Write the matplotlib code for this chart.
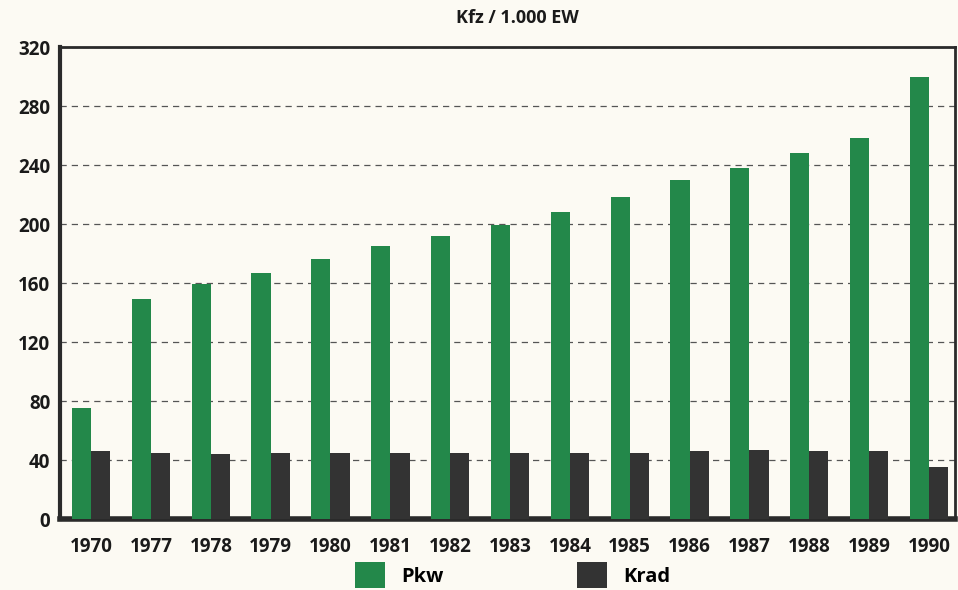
import numpy as np
import matplotlib.pyplot as plt
from matplotlib.patches import Patch

plt.rcParams['font.family'] = ['Open Sans', 'DejaVu Sans']

# Vehicles per 1,000 inhabitants
years = ["1970", "1977", "1978", "1979", "1980", "1981", "1982", "1983",
         "1984", "1985", "1986", "1987", "1988", "1989", "1990"]
pkw = [75, 149, 159, 167, 176, 185, 192, 199, 208, 218, 230, 238, 248, 258, 300]
krad = [46, 45, 44, 45, 45, 45, 45, 45, 45, 45, 46, 47, 46, 46, 35]
yticks = [0, 40, 80, 120, 160, 200, 240, 280, 320]

green = "#23884a"
dark = "#333333"
paper = "#fcfaf3"

fig = plt.figure(figsize=(9.58, 5.90), dpi=100, facecolor=paper)
ax = fig.add_axes([0.0626, 0.1203, 0.934, 0.80])
ax.set_facecolor(paper)

x = np.arange(len(years))
w = 0.32
ax.bar(x - w / 2, pkw, width=w, color=green, zorder=3)
ax.bar(x + w / 2, krad, width=w, color=dark, zorder=3)

ax.set_xlim(-0.52, 14.43)
ax.set_ylim(0, 320)
ax.set_yticks(yticks)
ax.set_xticks(x)
ax.set_xticklabels(years)
ax.tick_params(axis='both', length=0, labelsize=13.5, colors="#1a1a1a")
ax.tick_params(axis='x', pad=13)
ax.tick_params(axis='y', pad=7)
for lbl in ax.get_xticklabels() + ax.get_yticklabels():
    lbl.set_fontweight('bold')

ax.yaxis.grid(True, linestyle=(0, (5, 4)), color="#555555", linewidth=0.9, zorder=0)
ax.set_axisbelow(True)

for side, lw in [('left', 3), ('bottom', 4), ('top', 2), ('right', 2)]:
    ax.spines[side].set_linewidth(lw)
    ax.spines[side].set_color("#2a2a2a")

fig.text(0.540, 0.970, "Kfz / 1.000 EW", ha='center', va='center',
         fontsize=13, fontweight='bold', color="#1a1a1a")

handles = [Patch(facecolor=green), Patch(facecolor=dark)]
fig.legend(handles, ["Pkw", "Krad"], loc='center', bbox_to_anchor=(0.535, 0.025),
           ncol=2, frameon=False, handlelength=1.5, handleheight=1.6,
           columnspacing=6.6, handletextpad=0.8,
           prop={'weight': 'bold', 'size': 14.5})

fig.savefig("out.png", dpi=100, facecolor=paper)
